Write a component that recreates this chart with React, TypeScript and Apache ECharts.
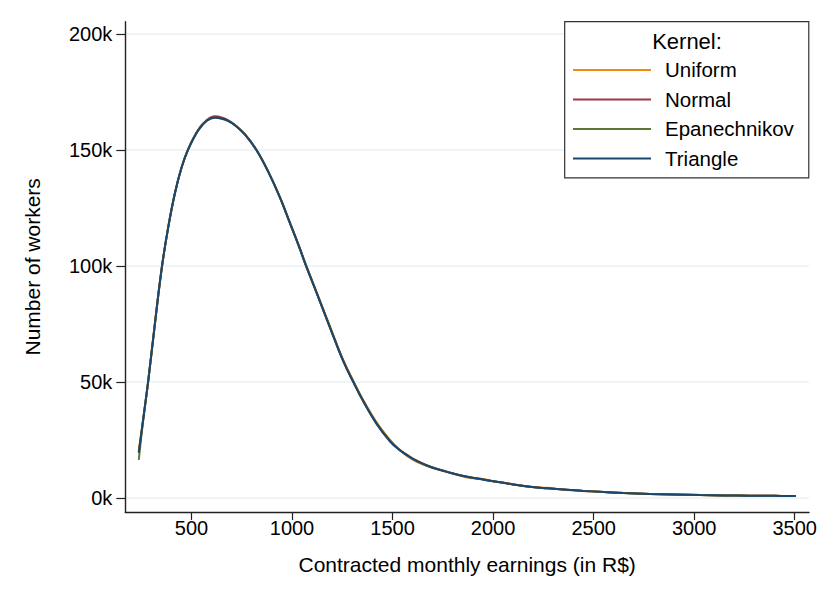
import React, { useEffect, useRef } from "react";
import * as echarts from "echarts";

const earnings = [238, 260, 285, 318, 352, 385, 418, 451, 484, 534, 576, 617, 650, 683, 720, 766, 824, 880, 940, 990, 1039, 1064, 1122, 1189, 1255, 1305, 1354, 1421, 1487, 1530, 1570, 1620, 1686, 1769, 1820, 1885, 1950, 2018, 2100, 2184, 2270, 2366, 2450, 2531, 2650, 2780, 2900, 3029, 3150, 3277, 3400, 3505];

const triangle = [19500, 34000, 50500, 75000, 99000, 117000, 131500, 142500, 150300, 158500, 162600, 164000, 163600, 162600, 160500, 156700, 149900, 141000, 129600, 118500, 107500, 101500, 88500, 73500, 59000, 50000, 41800, 32000, 24500, 21000, 18600, 16000, 13500, 11300, 10200, 9000, 8000, 7000, 5900, 4900, 4200, 3600, 3100, 2700, 2200, 1800, 1550, 1300, 1150, 1000, 950, 900];

const uniform = [20500, 34200, 50600, 75100, 99000, 117000, 131500, 142600, 150400, 158600, 162700, 164100, 163700, 162700, 160600, 156800, 150000, 141100, 129800, 118700, 107700, 101800, 88900, 74000, 59500, 50500, 42300, 32700, 25200, 21300, 18300, 15600, 13400, 11500, 10000, 8600, 8200, 6900, 6000, 4800, 4400, 3500, 3100, 2700, 2200, 1800, 1550, 1300, 1150, 1000, 950, 900];

const normal = [19800, 33900, 50400, 74900, 98900, 117000, 131600, 142700, 150500, 158800, 162900, 164500, 164000, 162800, 160500, 156600, 149800, 140900, 129500, 118400, 107400, 101400, 88500, 73500, 59000, 50000, 41700, 32000, 24600, 21100, 18700, 16100, 13600, 11300, 10200, 9000, 8000, 7000, 5900, 4900, 4200, 3600, 3100, 2700, 2200, 1800, 1550, 1300, 1150, 1000, 950, 900];

const epanechnikov = [16500, 33500, 50400, 75000, 99000, 117000, 131500, 142500, 150300, 158500, 162600, 163900, 163500, 162500, 160500, 156700, 149900, 141000, 129600, 118500, 107500, 101500, 88600, 73600, 59200, 50200, 42000, 32200, 24700, 21100, 18500, 15900, 13500, 11400, 10100, 8900, 8000, 7000, 5900, 4900, 4200, 3600, 3100, 2700, 2200, 1800, 1550, 1300, 1150, 1000, 950, 900];

const xTicks = [500, 1000, 1500, 2000, 2500, 3000, 3500];
const yTicks = [0, 50000, 100000, 150000, 200000];

const seriesNames = ["Uniform", "Normal", "Epanechnikov", "Triangle"];
const seriesValues = [uniform, normal, epanechnikov, triangle];
const seriesColors = ["#f28a12", "#9a3a42", "#5a7a34", "#1a476f"];

const FONT = "'Liberation Sans', Arial, Helvetica, sans-serif";

export default function App() {
  const ref = useRef<HTMLDivElement>(null);

  useEffect(() => {
    if (!ref.current) return;
    const chart = echarts.init(ref.current, undefined, { renderer: "svg" });

    const series = seriesNames.map((name, i) => ({
      name,
      type: "line",
      data: earnings.map((x, j) => [x, seriesValues[i][j]]),
      smooth: 0.4,
      symbol: "none",
      showSymbol: false,
      lineStyle: { color: seriesColors[i], width: 2 },
      itemStyle: { color: seriesColors[i] },
      z: 2 + i,
    }));

    chart.setOption({
      animation: false,
      backgroundColor: "#ffffff",
      textStyle: { fontFamily: FONT },
      grid: { left: 125.3, right: 21, top: 21.7, bottom: 92, containLabel: false },
      xAxis: {
        type: "value",
        min: 171,
        max: 3571,
        name: "Contracted monthly earnings (in R$)",
        nameLocation: "middle",
        nameGap: 42,
        nameTextStyle: { fontSize: 21, color: "#000", fontFamily: FONT },
        axisLine: { show: true, onZero: false, lineStyle: { color: "#222", width: 1.4 } },
        axisTick: { show: true, length: 8, customValues: xTicks, lineStyle: { color: "#222", width: 1.2 } },
        axisLabel: {
          customValues: xTicks,
          fontSize: 20,
          color: "#000",
          margin: 6,
          fontFamily: FONT,
          formatter: (v: number) => String(v),
        },
        splitLine: { show: false },
      },
      yAxis: {
        type: "value",
        min: -6000,
        max: 205300,
        name: "Number of workers",
        nameLocation: "middle",
        nameGap: 82,
        nameRotate: 90,
        nameTextStyle: { fontSize: 21, color: "#000", fontFamily: FONT },
        axisLine: { show: true, onZero: false, lineStyle: { color: "#222", width: 1.4 } },
        axisTick: { show: true, length: 9, customValues: yTicks, lineStyle: { color: "#222", width: 1.2 } },
        axisLabel: {
          customValues: yTicks,
          fontSize: 20,
          color: "#000",
          margin: 13,
          fontFamily: FONT,
          formatter: (v: number) => `${Math.round(v / 1000)}k`,
        },
        splitLine: { show: true, lineStyle: { color: "#eaf0f4", width: 1.5 } },
      },
      legend: {
        orient: "vertical",
        left: 564.7,
        top: 21.7,
        data: seriesNames,
        icon: "rect",
        itemWidth: 78,
        itemHeight: 2,
        itemGap: 8.5,
        padding: [37.7, 15, 9, 8.3],
        borderColor: "#333",
        borderWidth: 1.2,
        backgroundColor: "#fff",
        textStyle: { fontSize: 20.5, color: "#000", fontFamily: FONT, lineHeight: 20, padding: [0, 0, 0, 9] },
      },
      graphic: [
        {
          type: "text",
          x: 687,
          y: 41,
          z: 100,
          style: {
            text: "Kernel:",
            align: "center",
            verticalAlign: "middle",
            fontSize: 22,
            fontFamily: FONT,
            fill: "#000",
          },
        },
      ],
      series,
    });

    return () => chart.dispose();
  }, []);

  return <div ref={ref} style={{ position: "fixed", left: 0, top: 0, width: 830, height: 604 }} />;
}
